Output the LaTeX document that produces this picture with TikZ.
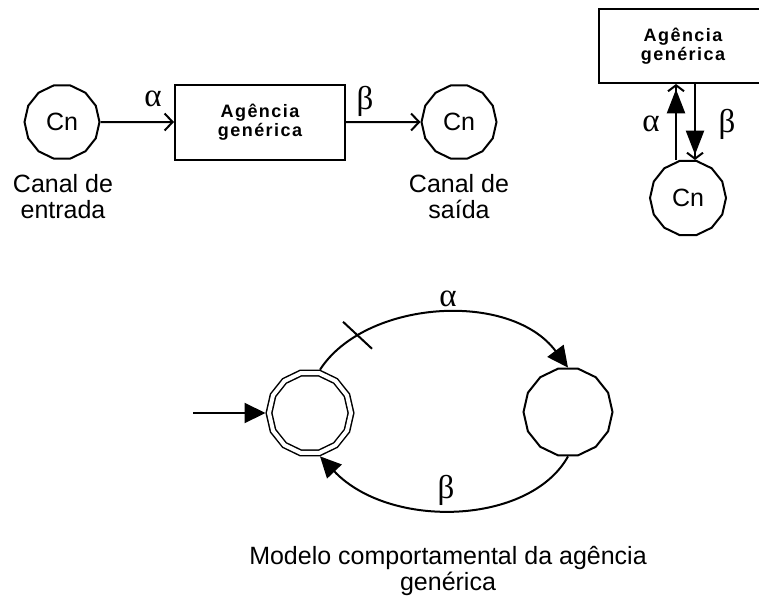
\documentclass[tikz,border=0pt]{standalone}
\usepackage{fontspec}
\setmainfont{Liberation Sans}
\newfontfamily\greekfont{Liberation Serif}
\newfontfamily\boxfont{Liberation Sans}[LetterSpace=8]
\usetikzlibrary{arrows.meta,shapes.geometric}

\begin{document}
\begin{tikzpicture}[
  x=0.5pt,y=-0.5pt,
  every node/.style={align=center},
  txt/.style={font=\fontsize{12.5}{13}\selectfont},
  canal/.style={draw,line width=1pt,regular polygon,regular polygon sides=14,inner sep=0pt,minimum size=37.5pt,font=\fontsize{12.5}{13}\selectfont},
  estado/.style={draw,line width=1pt,regular polygon,regular polygon sides=14,inner sep=0pt,minimum size=44.5pt},
  inicial/.style={draw,line width=0.75pt,double,double distance=2pt,regular polygon,regular polygon sides=14,inner sep=0pt,outer sep=1.7pt,minimum size=41pt},
  agencia/.style={draw,line width=1pt,rectangle,inner sep=0pt,font=\boxfont\bfseries\fontsize{9}{8.5}\selectfont},
  greek/.style={font=\greekfont\fontsize{16.5}{16.5}\selectfont,inner sep=0pt},
  barb/.style={line width=1pt,-{Straight Barb[length=4pt,width=8.5pt]}},
  tri/.style={line width=1pt,-{Triangle[length=10.5pt,width=10pt]}},
  dtip/.style={line width=1pt,-{Triangle[length=12pt,width=9pt,sep=-1.5pt] Straight Barb[length=3pt,width=8pt]}}
]
\useasboundingbox (0,0) rectangle (759,595);

\node[canal] (cnin) at (62,122) {Cn};
\node[agencia,minimum width=85pt,minimum height=37.5pt] (boxL) at (260,122) {Agência\\genérica};
\node[canal] (cnout) at (459,122) {Cn};
\node[txt] (entrada) at (63,197) {Canal de\\entrada};
\node[txt] (saida) at (459,197) {Canal de\\saída};
\node[greek] (aL) at (153,99) {α};
\node[greek] (bL) at (365,101) {β};

\node[agencia,minimum width=84pt,minimum height=37pt] (boxR) at (683,46) {Agência\\genérica};
\node[canal,minimum size=38pt] (cnR) at (688,198) {Cn};
\node[greek] (aR) at (651,124) {α};
\node[greek] (bR) at (727,124) {β};

\node[inicial] (s0) at (310,413) {};
\node[estado] (s1) at (568,412) {};
\coordinate (entry) at (193,413);
\node[greek] (aB) at (448,299) {α};
\node[greek] (bB) at (446,490) {β};
\node[txt] (modelo) at (448,571) {Modelo comportamental da agência\\genérica};

\draw[barb] (cnin) -- (boxL);
\draw[barb] (boxL) -- (cnout);
\draw[dtip] ([xshift=-6pt]cnR.north) -- ([xshift=-6pt]cnR.north |- boxR.south);
\draw[dtip] ([xshift=3.5pt]cnR.north |- boxR.south) -- ([xshift=3.5pt]cnR.north);
\draw[tri] (entry) -- (s0);
\draw[tri] (s0.77) .. controls (365,300) and (510,290) .. (s1.north) coordinate[pos=0.2] (tk);
\draw[tri] (s1.south) .. controls (530,525) and (390,530) .. (s0.-77);
\draw[line width=1pt] ([shift={(-14.5,-13.5)}]tk) -- ([shift={(14.5,13.5)}]tk);
\end{tikzpicture}
\end{document}
